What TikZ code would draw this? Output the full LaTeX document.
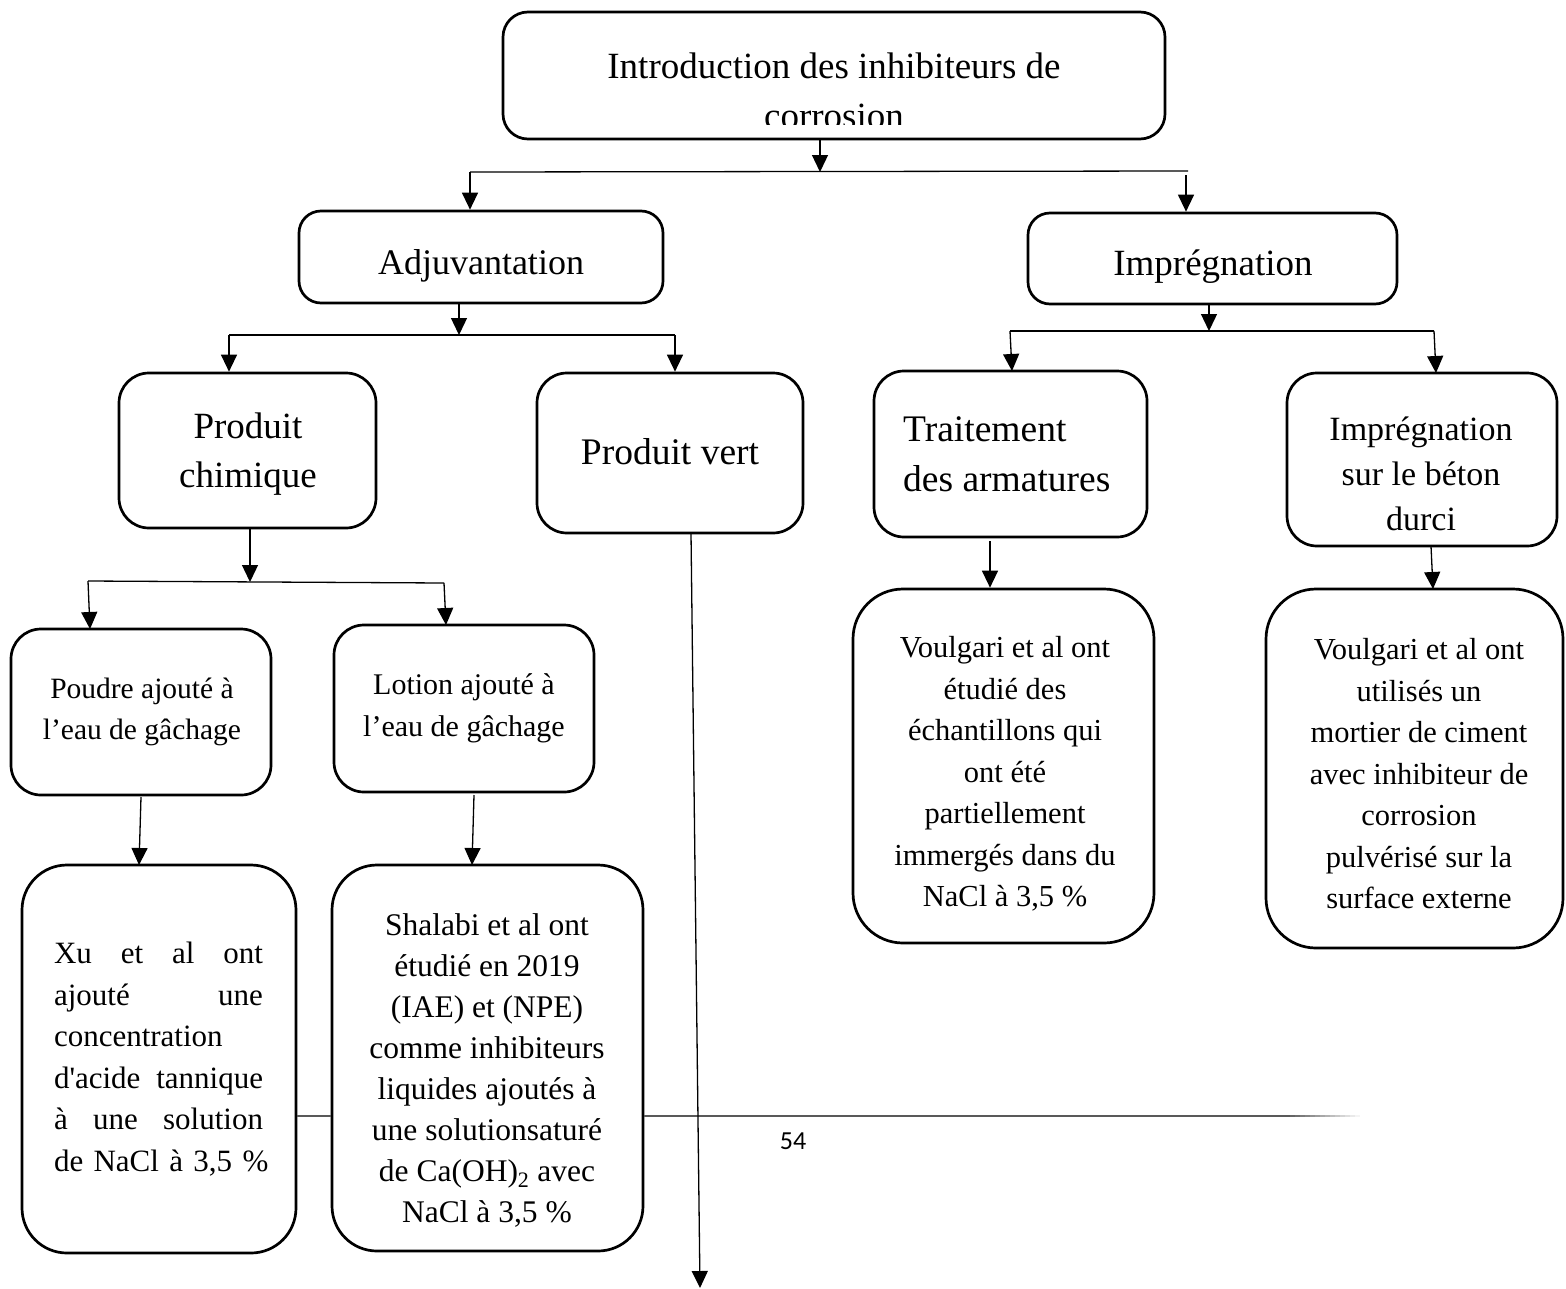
\documentclass[tikz,border=0pt]{standalone}
\usepackage{fontspec}
\setmainfont{Liberation Serif}
\newfontfamily\pagefont{Carlito}
\usetikzlibrary{arrows.meta}
\newcommand{\jline}[1]{\leavevmode\hbox to 209pt{#1}}
\tikzset{
  box/.style={draw, line width=2.7pt, rounded corners=#1, inner sep=0pt},
  box/.default=25pt,
  con/.style={line width=1.3pt},
  arr/.style={con, -{Triangle[length=17pt,width=16pt]}},
  txt/.style={inner sep=0pt, align=center},
  foot/.style={line width=2.5pt, draw=black!65},
}
\begin{document}
\begin{tikzpicture}[x=1pt,y=-1pt]
\useasboundingbox (0,0) rectangle (1566,1288);

% boxes
\node[box=25pt, minimum width=662pt, minimum height=127pt] (top) at (834,75.5) {};
\node[box=22pt, minimum width=364pt, minimum height=92pt] (adj) at (481,257) {};
\node[box=22pt, minimum width=369pt, minimum height=91pt] (imp) at (1212.5,258.5) {};
\node[box=30pt, minimum width=257pt, minimum height=155pt] (pchim) at (247.5,450.5) {};
\node[box=30pt, minimum width=266pt, minimum height=160pt] (pvert) at (670,453) {};
\node[box=30pt, minimum width=273pt, minimum height=166pt] (trait) at (1010.5,454) {};
\node[box=30pt, minimum width=270pt, minimum height=173pt] (impdur) at (1422,459.5) {};
\node[box=30pt, minimum width=260pt, minimum height=166pt] (poudre) at (141,712) {};
\node[box=30pt, minimum width=260pt, minimum height=167pt] (lotion) at (464,708.5) {};
\node[box=45pt, minimum width=274pt, minimum height=388pt] (xu) at (159,1059) {};
\node[box=45pt, minimum width=311pt, minimum height=386pt] (shal) at (487.5,1058) {};
\node[box=50pt, minimum width=301pt, minimum height=354pt] (voulA) at (1003.5,766) {};
\node[box=50pt, minimum width=297pt, minimum height=359pt] (voulB) at (1414.5,768.5) {};

% texts
\begin{scope}
\clip (503,12) rectangle (1165,124);
\node[txt, font=\fontsize{37}{50}\selectfont] (toptxt) at (834,91) {Introduction des inhibiteurs de\\corrosion};
\end{scope}
\node[txt, font=\fontsize{36}{44}\selectfont] (adjt) at (481,266) {Adjuvantation};
\node[txt, font=\fontsize{37}{44}\selectfont] (impt) at (1213,267) {Imprégnation};
\node[txt, font=\fontsize{37}{49}\selectfont] (pchimt) at (248,454) {Produit\\chimique};
\node[txt, font=\fontsize{37.5}{44}\selectfont] (pvertt) at (670,452) {Produit vert};
\node[txt, align=left, anchor=west, font=\fontsize{37.5}{50}\selectfont] (traitt) at (903,454) {Traitement\\des armatures};
\node[txt, font=\fontsize{34}{45}\selectfont] (impdurt) at (1421,474) {Imprégnation\\sur le béton\\durci};
\node[txt, font=\fontsize{29.5}{41}\selectfont] (poudret) at (142,712) {Poudre ajouté à\\l’eau de gâchage};
\node[txt, font=\fontsize{30}{42}\selectfont] (lotiont) at (464,708) {Lotion ajouté à\\l’eau de gâchage};
\node[txt, align=left, text width=209pt, font=\fontsize{31}{41.5}\selectfont] (xut) at (158.5,1059) {\jline{Xu\hfill et\hfill al\hfill ont}\\\jline{ajouté\hfill une}\\concentration\\\jline{d\textquotesingle{}acide\hfill tannique}\\\jline{à\hfill une\hfill solution}\\\leavevmode\hbox{de NaCl à 3,5~\%}};
\node[txt, font=\fontsize{31.5}{41}\selectfont] (shalt) at (487,1070) {Shalabi et al ont\\étudié en 2019\\(IAE) et (NPE)\\comme inhibiteurs\\liquides ajoutés à\\une solutionsaturé\\de Ca(OH)\textsubscript{2} avec\\NaCl à 3,5~\%};
\node[txt, font=\fontsize{30.5}{41.5}\selectfont] (voulAt) at (1005,774) {Voulgari et al ont\\étudié des\\échantillons qui\\ont été\\partiellement\\immergés dans du\\NaCl à 3,5~\%};
\node[txt, font=\fontsize{30.5}{41.5}\selectfont] (voulBt) at (1419,774) {Voulgari et al ont\\utilisés un\\mortier de ciment\\avec inhibiteur de\\corrosion\\pulvérisé sur la\\surface externe};
\node[txt, font=\pagefont\fontsize{26}{30}\selectfont] (pnum) at (793,1141) {54};

% junction coordinates
\coordinate (j1) at (820,172);
\coordinate (l1) at (470,172);
\coordinate (r1) at (1188,171);
\coordinate (r1d) at (1186,175);
\coordinate (j2) at (459,335);
\coordinate (l2) at (229,335);
\coordinate (r2) at (675,335);
\coordinate (j3) at (1209,331);
\coordinate (l3) at (1010,331);
\coordinate (r3) at (1434,331);
\coordinate (l3e) at (1012,371);
\coordinate (r3e) at (1436,373);
\coordinate (j4) at (250,582);
\coordinate (l4) at (88,581);
\coordinate (r4) at (444,583);
\coordinate (l4e) at (90,629);
\coordinate (r4e) at (446,625);
\coordinate (pxs) at (141,797);
\coordinate (pxe) at (139,865);
\coordinate (lss) at (474,795);
\coordinate (lse) at (472,865);
\coordinate (vs) at (691,533);
\coordinate (ve) at (700,1288);
\coordinate (ts) at (990,541);
\coordinate (ids) at (1431,546);
\coordinate (ide) at (1433,589);
\coordinate (fy) at (0,1116);
\coordinate (fend) at (1290,1116);

% connectors
\draw[arr] (j1 |- top.south) -- (j1);
\draw[con] (l1) -- (r1);
\draw[arr] (l1) -- (l1 |- adj.north);
\draw[arr] (r1d) -- (r1d |- imp.north);

\draw[arr] (j2 |- adj.south) -- (j2);
\draw[con] (l2) -- (r2);
\draw[arr] (l2) -- (l2 |- pchim.north);
\draw[arr] (r2) -- (r2 |- pvert.north);

\draw[arr] (j3 |- imp.south) -- (j3);
\draw[con] (l3) -- (r3);
\draw[arr] (l3) -- (l3e);
\draw[arr] (r3) -- (r3e);

\draw[arr] (j4 |- pchim.south) -- (j4);
\draw[con] (l4) -- (r4);
\draw[arr] (l4) -- (l4e);
\draw[arr] (r4) -- (r4e);

\draw[arr] (pxs) -- (pxe);
\draw[arr] (lss) -- (lse);
\draw[arr] (ts) -- (ts |- voulA.north);
\draw[arr] (ids) -- (ide);

% footer line
\draw[foot] (xu.east |- fy) -- (shal.west |- fy);
\draw[foot] (shal.east |- fy) -- (fend);
\foreach \i in {0,...,14}{
  \pgfmathsetmacro{\shadeval}{65-65*(\i+1)/15}
  \draw[line width=2.5pt, draw=black!\shadeval] (1290+5*\i,1116) -- (1295+5*\i,1116);
}

% long arrow from Produit vert
\draw[arr] (vs) -- (ve);
\end{tikzpicture}
\end{document}
